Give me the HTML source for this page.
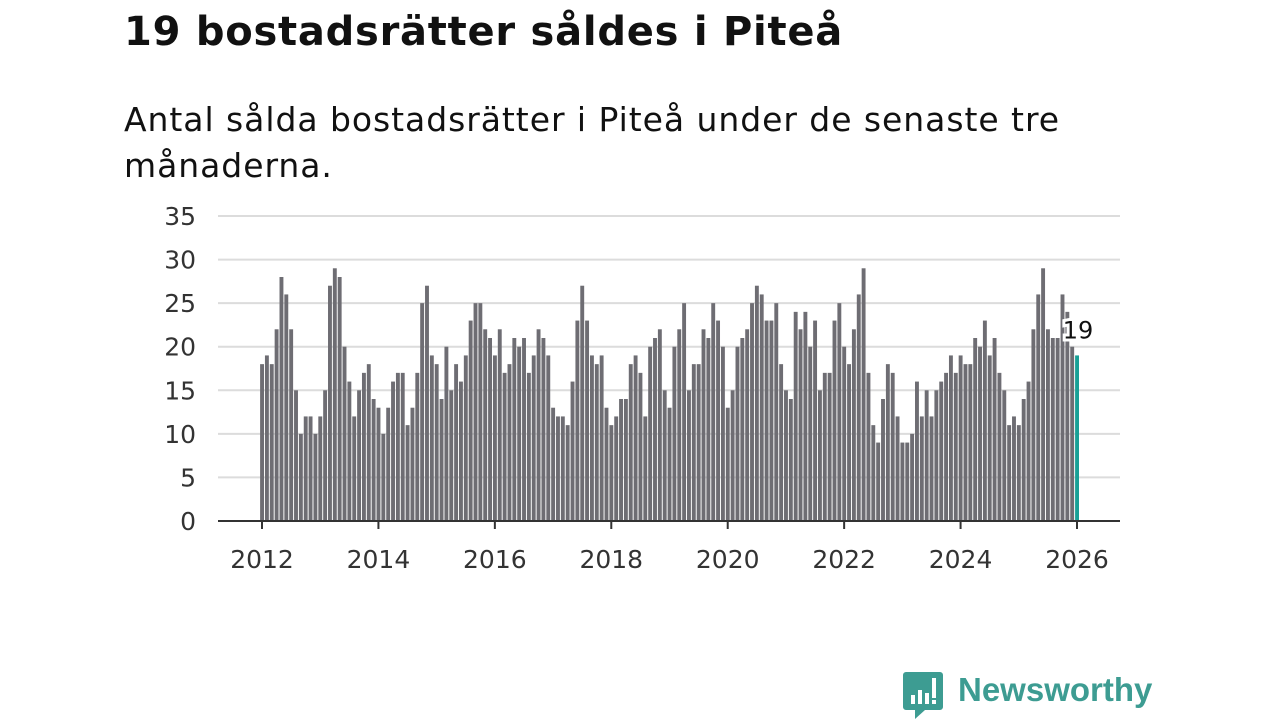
<!DOCTYPE html>
<html><head><meta charset="utf-8"><style>
body{margin:0;width:1280px;height:720px;background:#fff;font-family:"DejaVu Sans","Liberation Sans",sans-serif;overflow:hidden;position:relative}
h1{position:absolute;left:124px;top:9px;margin:0;font-size:40px;font-weight:bold;color:#111;letter-spacing:0.75px;white-space:nowrap}
p.sub{position:absolute;left:124px;top:97px;margin:0;font-size:33px;line-height:46px;color:#111;width:1100px;letter-spacing:0.95px;white-space:nowrap}
svg{position:absolute;left:0;top:0}
</style></head><body>
<h1>19 bostadsrätter såldes i Piteå</h1>
<p class="sub">Antal sålda bostadsrätter i Piteå under de senaste tre<br>månaderna.</p>
<svg id="chart" width="1280" height="720"></svg>
<div style="position:absolute;left:903px;top:672px;width:40px;height:48px">
<svg width="40" height="48" viewBox="0 0 40 48"><path d="M3 0h34a3 3 0 0 1 3 3v32a3 3 0 0 1-3 3H22l-10 9v-9H3a3 3 0 0 1-3-3V3a3 3 0 0 1 3-3z" fill="#3d9c92"/><rect x="8" y="23" width="4" height="9" fill="#fff"/><rect x="15" y="18" width="4" height="14" fill="#fff"/><rect x="22" y="21" width="4" height="11" fill="#fff"/><rect x="29" y="6" width="4" height="20" fill="#fff"/><rect x="29" y="28" width="4" height="4" fill="#fff"/></svg></div>
<div style="position:absolute;left:958px;top:671px;font-size:33px;font-weight:bold;color:#3d9c92;font-family:'Liberation Sans',sans-serif">Newsworthy</div>
<script>
const values2012=[18,19,18,22,28,26,22,15,10,12,12,10];
const values2013=[12,15,27,29,28,20,16,12,15,17,18,14];
const values2014=[13,10,13,16,17,17,11,13,17,25,27,19];
const values2015=[18,14,20,15,18,16,19,23,25,25,22,21];
const values2016=[19,22,17,18,21,20,21,17,19,22,21,19];
const values2017=[13,12,12,11,16,23,27,23,19,18,19,13];
const values2018=[11,12,14,14,18,19,17,12,20,21,22,15];
const values2019=[13,20,22,25,15,18,18,22,21,25,23,20];
const values2020=[13,15,20,21,22,25,27,26,23,23,25,18];
const values2021=[15,14,24,22,24,20,23,15,17,17,23,25];
const values2022=[20,18,22,26,29,17,11,9,14,18,17,12];
const values2023=[9,9,10,16,12,15,12,15,16,17,19,17];
const values2024=[19,18,18,21,20,23,19,21,17,15,11,12];
const values2025=[11,14,16,22,26,29,22,21,21,26,24,20];
const values2026=[19];
const startYear=2012;
const yTicks=[0,5,10,15,20,25,30,35];
const xTicks=[2012,2014,2016,2018,2020,2022,2024,2026];
const values=[].concat(values2012,values2013,values2014,values2015,values2016,values2017,values2018,values2019,values2020,values2021,values2022,values2023,values2024,values2025,values2026);
const svg=document.getElementById('chart');const NS='http://www.w3.org/2000/svg';
const x0=262,x1=1077,y0=521,y35=216;
const xs=t=>x0+(t-startYear)*(x1-x0)/14;
const ys=v=>y0-v*(y0-y35)/35;
function mk(tag,a){const e=document.createElementNS(NS,tag);for(const k in a)e.setAttribute(k,a[k]);svg.appendChild(e);return e;}
yTicks.forEach(v=>{
 const g=mk('line',{x1:218,x2:1120,y1:ys(v),y2:ys(v),stroke:'#dcdcdc','stroke-width':2});
 
 
 const t=mk('text',{x:196,y:ys(v)+9,'text-anchor':'end','font-size':25,fill:'#333','font-family':'DejaVu Sans, Liberation Sans, sans-serif'});
 t.textContent=v;
 
 
});
values.forEach((v,i)=>{
 const x=xs(startYear+i/12);const last=i===values.length-1;
 const r=mk('rect',{x:x-1.9,y:ys(v),width:3.9,height:y0-ys(v),fill:last?'#18a096':'#6e6d73'});
 
 
});
const ax=mk('line',{x1:218,x2:1120,y1:y0,y2:y0,stroke:'#333','stroke-width':2});


xTicks.forEach(yr=>{
 const tk=mk('line',{x1:xs(yr),x2:xs(yr),y1:y0,y2:y0+8,stroke:'#333','stroke-width':2});
 
 
 const t=mk('text',{x:xs(yr),y:568,'text-anchor':'middle','font-size':25,fill:'#333','font-family':'DejaVu Sans, Liberation Sans, sans-serif'});
 t.textContent=yr;
 
 
});
const lv=values[values.length-1];
const lb=mk('text',{x:xs(startYear+(values.length-1)/12)+1,y:ys(lv)-17,'text-anchor':'middle','font-size':24,fill:'#111',stroke:'#fff','stroke-width':6,'paint-order':'stroke','font-family':'DejaVu Sans, Liberation Sans, sans-serif'});
lb.textContent=lv;


</script>
</body></html>
